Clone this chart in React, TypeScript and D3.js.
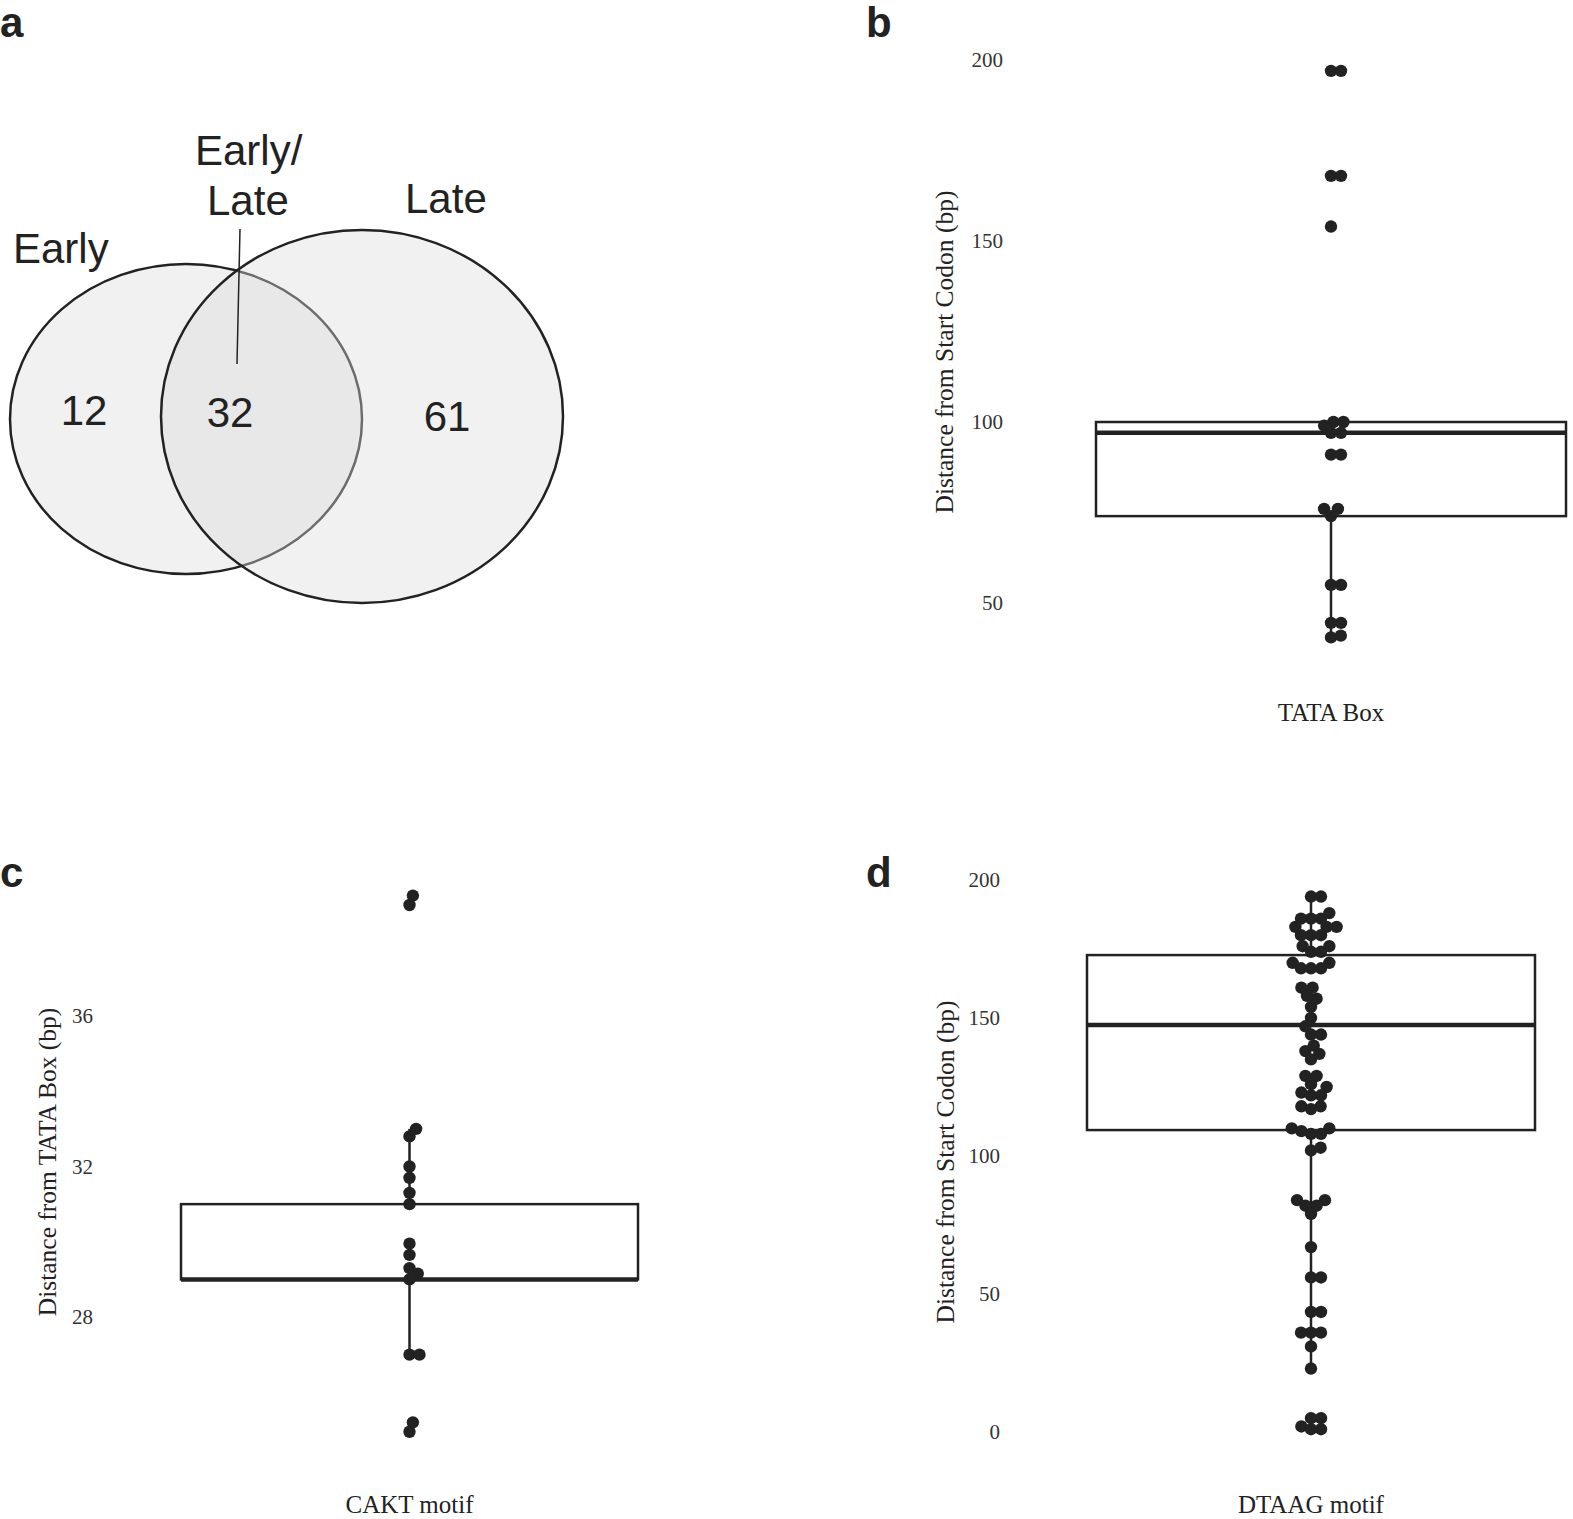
import React, { useEffect, useRef } from 'react';
import * as d3 from 'd3';

// ---- data ----
const vennSets = ['Early', 'Early/Late', 'Late'];
const vennCounts = [12, 32, 61];

const tataCategory = ['TATA Box'];
const tataValues = [197, 197, 168, 168, 154, 100, 100, 99, 97, 97, 91, 91, 76, 76, 74, 55, 55, 44.5, 44.5, 41, 40.5];
const tataBox = { q1: 74, median: 97, q3: 100, lo: 40.5, hi: 100 };
const tataTicks = [50, 100, 150, 200];

const caktCategory = ['CAKT motif'];
const caktValues = [39.2, 38.95, 33.0, 32.8, 32.0, 31.7, 31.3, 31.0, 29.95, 29.65, 29.3, 29.15, 29.0, 27.0, 27.0, 25.2, 24.95];
const caktBox = { q1: 29, median: 29, q3: 31, lo: 27, hi: 33 };
const caktTicks = [28, 32, 36];

const dtaagCategory = ['DTAAG motif'];
const dtaagValues = [
  194, 194, 188, 186, 186, 186, 183, 183, 183, 180, 180, 180, 176, 176, 174, 174,
  170, 170, 168, 168, 168, 161, 161, 158, 157, 154, 150, 147, 144, 144, 140, 138,
  137, 135, 129, 129, 126, 125, 123, 122, 122, 118, 118, 117, 110, 110, 109, 108,
  108, 103, 102, 84, 84, 82, 82, 79, 67, 56, 56, 43.5, 43.5, 36, 36, 36, 31, 23,
  5, 5, 2, 1, 1
];
const dtaagBox = { q1: 109.4, median: 147.5, q3: 172.8, lo: 23, hi: 194 };
const dtaagTicks = [0, 50, 100, 150, 200];

const SERIF = '"Liberation Serif", "Times New Roman", serif';
const SANS = '"Liberation Sans", Arial, Helvetica, sans-serif';
const INK = '#222';

// simple deterministic beeswarm: place each point as close to the centre as possible
function swarm(ys: number[], d: number) {
  const order = ys.map((y, i) => i).sort((a, b) => ys[b] - ys[a]);
  const placed: { x: number; y: number }[] = [];
  const out = new Array(ys.length).fill(0);
  order.forEach(i => {
    const y = ys[i];
    const near = placed.filter(p => Math.abs(p.y - y) < d);
    const cands = [0];
    near.forEach(p => {
      const dx = Math.sqrt(d * d - (p.y - y) ** 2);
      cands.push(p.x + dx, p.x - dx);
    });
    cands.sort((a, b) => Math.abs(a) - Math.abs(b) || b - a);
    const ok = cands.find(c => near.every(p => Math.hypot(p.x - c, p.y - y) >= d - 0.01)) ?? 0;
    placed.push({ x: ok, y });
    out[i] = ok;
  });
  return out;
}

export default function App() {
  const svgRef = useRef<SVGSVGElement>(null);

  useEffect(() => {
    if (!svgRef.current) return;
    const svg = d3.select(svgRef.current);
    svg.selectAll('*').remove();

    // panel letters
    [['a', 0, 37], ['b', 866, 37], ['c', 0, 887], ['d', 866, 887]].forEach(([t, x, y]) => {
      svg.append('text')
        .attr('x', x as number).attr('y', y as number)
        .attr('font-family', SANS).attr('font-weight', 700).attr('font-size', 42)
        .attr('fill', INK).text(t as string);
    });

    // ---- panel a: Venn ----
    const venn = svg.append('g');
    venn.append('ellipse')
      .attr('cx', 186).attr('cy', 419).attr('rx', 176).attr('ry', 155)
      .attr('fill', '#f1f1f1').attr('stroke', INK).attr('stroke-width', 2.5);
    venn.append('ellipse')
      .attr('cx', 362).attr('cy', 416.5).attr('rx', 201).attr('ry', 186.5)
      .attr('fill', '#dcdcdc').attr('fill-opacity', 0.4)
      .attr('stroke', INK).attr('stroke-width', 2.5);

    venn.append('line')
      .attr('x1', 240).attr('y1', 229).attr('x2', 237).attr('y2', 364)
      .attr('stroke', INK).attr('stroke-width', 1.5);

    const vText = (x: number, y: number, t: string, anchor = 'start') =>
      venn.append('text').attr('x', x).attr('y', y)
        .attr('text-anchor', anchor)
        .attr('font-family', SANS).attr('font-size', 42).attr('fill', INK).text(t);

    const [early, both, late] = vennSets;
    const bothParts = both.split('/');
    vText(13, 263, early);
    vText(195, 165, bothParts[0] + '/');
    vText(207, 215, bothParts[1]);
    vText(405, 213, late);
    vText(84, 425, String(vennCounts[0]), 'middle');
    vText(230, 427, String(vennCounts[1]), 'middle');
    vText(447, 431, String(vennCounts[2]), 'middle');

    // ---- box + beeswarm panels ----
    const panels = [
      {
        cats: tataCategory, values: tataValues, box: tataBox, ticks: tataTicks,
        domain: [50, 200], yRange: [603, 60], xRange: [1096, 1566],
        tickX: 1003, titleX: 944, titleY: 352, labelY: 721,
        title: 'Distance from Start Codon (bp)'
      },
      {
        cats: caktCategory, values: caktValues, box: caktBox, ticks: caktTicks,
        domain: [28, 36], yRange: [1317, 1016], xRange: [181, 638],
        tickX: 93, titleX: 47, titleY: 1162, labelY: 1513,
        title: 'Distance from TATA Box (bp)'
      },
      {
        cats: dtaagCategory, values: dtaagValues, box: dtaagBox, ticks: dtaagTicks,
        domain: [0, 200], yRange: [1432, 880], xRange: [1087, 1535],
        tickX: 1000, titleX: 945, titleY: 1162, labelY: 1513,
        title: 'Distance from Start Codon (bp)'
      }
    ];

    panels.forEach(p => {
      const g = svg.append('g');
      const y = d3.scaleLinear().domain(p.domain).range(p.yRange);
      const x = d3.scaleBand().domain(p.cats).range(p.xRange).padding(0);
      const cx = (x(p.cats[0]) ?? 0) + x.bandwidth() / 2;

      // ticks
      p.ticks.forEach(t => {
        g.append('text')
          .attr('x', p.tickX).attr('y', y(t))
          .attr('text-anchor', 'end').attr('dominant-baseline', 'central')
          .attr('font-family', SERIF).attr('font-size', 21).attr('fill', '#333')
          .text(t);
      });

      // y title
      g.append('text')
        .attr('transform', `translate(${p.titleX},${p.titleY}) rotate(-90)`)
        .attr('text-anchor', 'middle').attr('dominant-baseline', 'central')
        .attr('font-family', SERIF).attr('font-size', 25.5).attr('fill', INK)
        .text(p.title);

      // x label
      g.append('text')
        .attr('x', cx).attr('y', p.labelY)
        .attr('text-anchor', 'middle')
        .attr('font-family', SERIF).attr('font-size', 25).attr('fill', INK)
        .text(p.cats[0]);

      // whiskers
      g.append('line')
        .attr('x1', cx).attr('x2', cx).attr('y1', y(p.box.lo)).attr('y2', y(p.box.q1))
        .attr('stroke', INK).attr('stroke-width', 2.5);
      g.append('line')
        .attr('x1', cx).attr('x2', cx).attr('y1', y(p.box.q3)).attr('y2', y(p.box.hi))
        .attr('stroke', INK).attr('stroke-width', 2.5);

      // box
      g.append('rect')
        .attr('x', x(p.cats[0]) ?? 0).attr('width', x.bandwidth())
        .attr('y', y(p.box.q3)).attr('height', y(p.box.q1) - y(p.box.q3))
        .attr('fill', 'none').attr('stroke', INK).attr('stroke-width', 2.5);
      g.append('line')
        .attr('x1', x(p.cats[0]) ?? 0).attr('x2', (x(p.cats[0]) ?? 0) + x.bandwidth())
        .attr('y1', y(p.box.median)).attr('y2', y(p.box.median))
        .attr('stroke', INK).attr('stroke-width', 4.5);

      // points
      const ys = p.values.map(v => y(v));
      const offs = swarm(ys, 10);
      g.selectAll('circle.pt')
        .data(p.values)
        .enter()
        .append('circle')
        .attr('class', 'pt')
        .attr('cx', (d, i) => cx + offs[i])
        .attr('cy', d => y(d))
        .attr('r', 6.2)
        .attr('fill', INK);
    });
  }, []);

  return (
    <svg
      ref={svgRef}
      width={1573}
      height={1519}
      style={{ position: 'absolute', left: 0, top: 0, background: '#fff' }}
    />
  );
}
